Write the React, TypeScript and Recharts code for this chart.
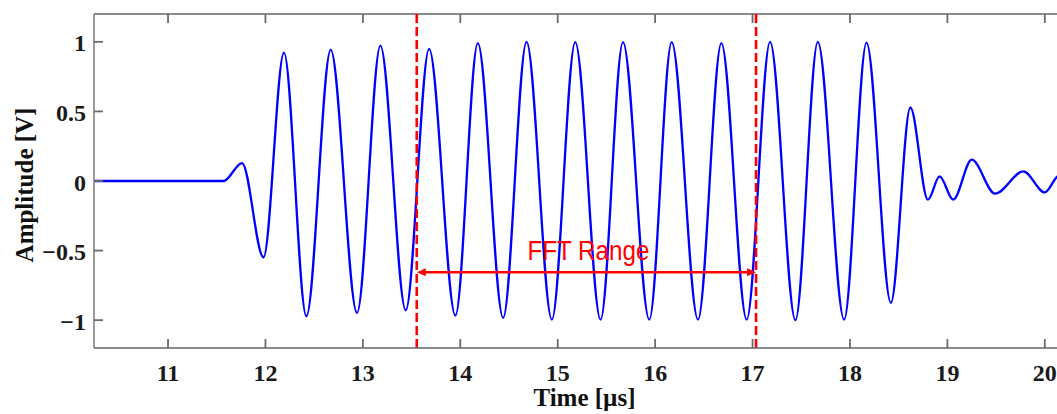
import React from 'react';
import { LineChart, Line, XAxis, YAxis, ReferenceLine } from 'recharts';

// Time axis samples (µs) and amplitude (V) (extrema of the burst)
const timeUs = [
  10.24, 10.8, 11.3, 11.57, 11.76, 11.98, 12.19, 12.42, 12.67, 12.94, 13.18, 13.44,
  13.68, 13.95, 14.18, 14.44, 14.68, 14.94, 15.18, 15.44, 15.67, 15.94, 16.17, 16.44,
  16.68, 16.94, 17.18, 17.44, 17.67, 17.94, 18.17, 18.42, 18.62, 18.8, 18.92, 19.06,
  19.25, 19.49, 19.78, 20.0, 20.12, 20.22,
];
const amplitudeV = [
  0, 0, 0, 0, 0.129, -0.548, 0.923, -0.972, 0.943, -0.948, 0.973, -0.929,
  0.95, -0.967, 0.991, -0.983, 1.0, -0.996, 0.998, -0.996, 0.998, -0.996, 0.998, -0.996,
  0.991, -0.996, 1.0, -1.0, 1.0, -0.996, 0.995, -0.876, 0.528, -0.134, 0.033, -0.134,
  0.153, -0.091, 0.069, -0.082, 0.027, 0.08,
];

const xTicks = [11, 12, 13, 14, 15, 16, 17, 18, 19, 20];
const yTicks = [-1, -0.5, 0, 0.5, 1];
const xDomain = [10.24, 20.31];
const yDomain = [-1.2, 1.2];

const fftStart = 13.553;
const fftEnd = 17.036;
const arrowLevel = -0.656;
const fftLabel = 'FFT Range';
const xTitle = 'Time [µs]';
const yTitle = 'Amplitude [V]';

const data = timeUs.map((t, i) => ({ t, v: amplitudeV[i] }));

const serif = '"Liberation Serif", "Times New Roman", Times, serif';
const frame = '#666666';
const fmtY = (v: number) => (v < 0 ? `\u2212${Math.abs(v)}` : `${v}`);

const PLOT_TOP = 14;
const PLOT_BOTTOM = 348;
const PLOT_LEFT = 94;
const TICK_LEN = 9;
const TICK_COLOR = '#6a6a6a';
const TICK_W = 1.8;

function XTick(props: any) {
  const { x, payload } = props;
  return (
    <g>
      <line x1={x} x2={x} y1={PLOT_BOTTOM} y2={PLOT_BOTTOM - TICK_LEN} stroke={TICK_COLOR} strokeWidth={TICK_W} />
      <line x1={x} x2={x} y1={PLOT_TOP} y2={PLOT_TOP + TICK_LEN} stroke={TICK_COLOR} strokeWidth={TICK_W} />
      <text x={x} y={PLOT_BOTTOM + 33} textAnchor="middle" fontFamily={serif} fontSize={24} fontWeight="bold" fill="#1a1a1a">
        {payload.value}
      </text>
    </g>
  );
}

function YTick(props: any) {
  const { y, payload } = props;
  return (
    <g>
      <line x1={PLOT_LEFT} x2={PLOT_LEFT + TICK_LEN} y1={y} y2={y} stroke={TICK_COLOR} strokeWidth={TICK_W} />
      <text x={PLOT_LEFT - 8} y={y + 9.5} textAnchor="end" fontFamily={serif} fontSize={24} fontWeight="bold" fill="#1a1a1a">
        {fmtY(payload.value)}
      </text>
    </g>
  );
}

function FftArrow(props: any) {
  const { x1, y1, x2, y2 } = props;
  const head = 9;
  const hw = 4;
  return (
    <g>
      <line x1={x1 + head - 1} y1={y1} x2={x2 - head + 1} y2={y2} stroke="#ff0000" strokeWidth={2.5} />
      <polygon points={`${x1},${y1} ${x1 + head},${y1 - hw} ${x1 + head},${y1 + hw}`} fill="#ff0000" />
      <polygon points={`${x2},${y2} ${x2 - head},${y2 - hw} ${x2 - head},${y2 + hw}`} fill="#ff0000" />
      <text
        x={(x1 + x2) / 2 + 2}
        y={y1 - 12.5}
        textAnchor="middle"
        fontFamily='"Liberation Sans", Arial, sans-serif'
        fontSize={27}
        fill="#ff0000"
        textLength={122}
        lengthAdjust="spacingAndGlyphs"
      >
        {fftLabel}
      </text>
    </g>
  );
}

export default function App() {
  return (
    <div style={{ position: 'absolute', left: 0, top: 0, width: 1057, height: 414, overflow: 'hidden', background: '#fff' }}>
      <LineChart width={1090} height={414} data={data} margin={{ top: 14, right: 15, bottom: 0, left: 0 }}>
        <XAxis
          type="number"
          dataKey="t"
          domain={xDomain}
          ticks={xTicks}
          allowDataOverflow
          height={66}
          stroke={frame}
          strokeWidth={1.3}
          tickLine={false}
          tick={<XTick />}
          label={{
            content: () => (
              <text x={584.5} y={405.5} textAnchor="middle" fontFamily={serif} fontSize={25} fontWeight="bold" fill="#111">
                {xTitle}
              </text>
            ),
          }}
        />
        <YAxis
          type="number"
          domain={yDomain}
          ticks={yTicks}
          allowDataOverflow
          width={94}
          stroke={frame}
          strokeWidth={1.3}
          tickLine={false}
          tick={<YTick />}
          label={{
            content: () => (
              <text
                x={33}
                y={185}
                transform="rotate(-90, 33, 185)"
                textAnchor="middle"
                fontFamily={serif}
                fontSize={25}
                fontWeight="bold"
                fill="#111"
              >
                {yTitle}
              </text>
            ),
          }}
        />
        <ReferenceLine y={yDomain[1]} stroke={frame} strokeWidth={1.3} />
        <Line type="monotone" dataKey="v" stroke="#0000ff" strokeWidth={2.3} dot={false} isAnimationActive={false} />
        <ReferenceLine x={fftStart} stroke="#ff0000" strokeWidth={2.6} strokeDasharray="9 4" />
        <ReferenceLine x={fftEnd} stroke="#ff0000" strokeWidth={2.6} strokeDasharray="9 4" />
        <ReferenceLine
          segment={[
            { x: fftStart, y: arrowLevel },
            { x: fftEnd, y: arrowLevel },
          ]}
          shape={FftArrow}
        />
      </LineChart>
    </div>
  );
}
